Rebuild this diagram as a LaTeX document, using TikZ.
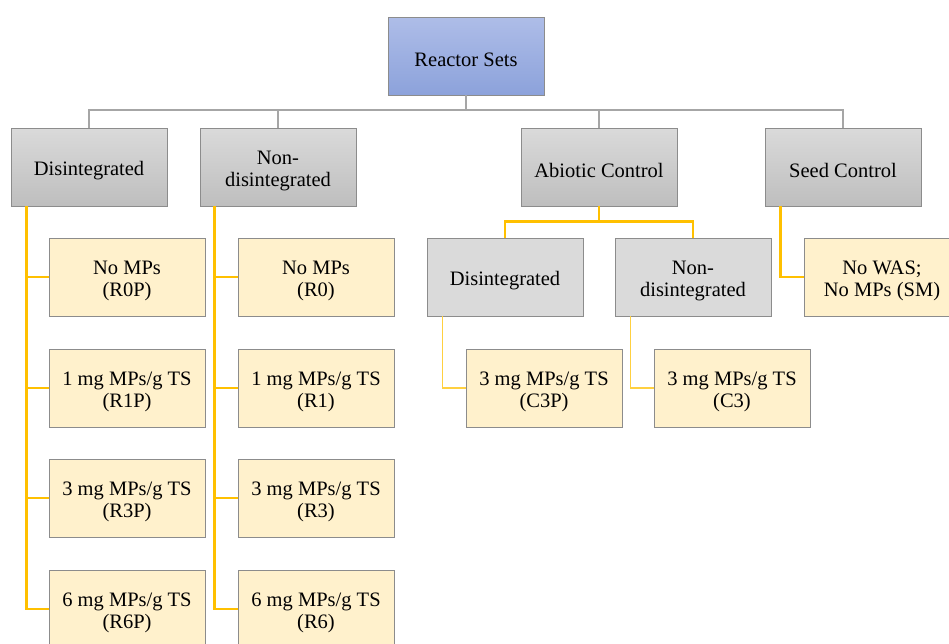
\documentclass[tikz,border=0pt]{standalone}
\usepackage{fontspec}
\setmainfont{Liberation Serif}
\newcommand\dnstrut{\rule{0pt}{21pt}}
\begin{document}
\begin{tikzpicture}[x=1pt,y=-1pt]
\definecolor{rsTop}{HTML}{AEBDE8}
\definecolor{rsBot}{HTML}{8CA2DB}
\definecolor{gTop}{HTML}{DADADA}
\definecolor{gBot}{HTML}{BEBEBE}
\definecolor{gold}{HTML}{FFC000}
\definecolor{cream}{HTML}{FFF1CC}
\tikzset{
  base/.style={minimum width=156pt,minimum height=78pt,inner sep=2pt,align=center,
    font=\fontsize{20.5pt}{22pt}\selectfont,text=black,draw=black!45,line width=0.9pt},
  topbox/.style={base,top color=rsTop,bottom color=rsBot},
  graybox/.style={base,top color=gTop,bottom color=gBot},
  lgraybox/.style={base,fill=gTop},
  ybox/.style={base,fill=cream},
  grayline/.style={draw=black!35,line width=2.6pt},
  goldline/.style={draw=gold,line width=2.6pt},
  thingold/.style={draw=gold!75,line width=1.4pt}}
\useasboundingbox (0,0) rectangle (949,643);
\clip (0,0) rectangle (949,643);
\coordinate (bar) at (466,110);
\node[topbox] (rs) at (466,56) {\dnstrut Reactor Sets};
\node[graybox] (dis) at (89,167) {\dnstrut Disintegrated};
\node[graybox] (nd) at (278,167) {\dnstrut Non-\\disintegrated};
\node[graybox] (ab) at (599,167) {\dnstrut Abiotic Control};
\node[graybox] (sc) at (843,167) {\dnstrut Seed Control};
\node[ybox] (r0p) at (127,277) {\dnstrut No MPs\\(R0P)};
\node[ybox] (r1p) at (127,388) {\dnstrut 1 mg MPs/g TS\\(R1P)};
\node[ybox] (r3p) at (127,498) {\dnstrut 3 mg MPs/g TS\\(R3P)};
\node[ybox] (r6p) at (127,609) {\dnstrut 6 mg MPs/g TS\\(R6P)};
\node[ybox] (r0) at (316,277) {\dnstrut No MPs\\(R0)};
\node[ybox] (r1) at (316,388) {\dnstrut 1 mg MPs/g TS\\(R1)};
\node[ybox] (r3) at (316,498) {\dnstrut 3 mg MPs/g TS\\(R3)};
\node[ybox] (r6) at (316,609) {\dnstrut 6 mg MPs/g TS\\(R6)};
\node[lgraybox] (ad) at (505,277) {\dnstrut Disintegrated};
\node[lgraybox] (an) at (693,277) {\dnstrut Non-\\disintegrated};
\node[ybox] (c3p) at (544,388) {\dnstrut 3 mg MPs/g TS\\(C3P)};
\node[ybox] (c3) at (732,388) {\dnstrut 3 mg MPs/g TS\\(C3)};
\node[ybox] (sm) at (882,277) {\dnstrut No WAS;\\No MPs (SM)};
% gray connectors
\draw[grayline] (rs.south) -- (bar);
\draw[grayline] (bar) -| (dis.north);
\draw[grayline] (bar) -| (nd.north);
\draw[grayline] (bar) -| (ab.north);
\draw[grayline] (bar) -| (sc.north);
% gold connectors
\foreach \c in {r0p,r1p,r3p,r6p}{\draw[goldline] (dis.south west) ++(16,0) |- (\c.west);}
\foreach \c in {r0,r1,r3,r6}{\draw[goldline] (nd.south west) ++(15,0) |- (\c.west);}
\draw[goldline] (ab.south) -- ++(0,15) -| (ad.north);
\draw[goldline] (ab.south) ++(0,15) -| (an.north);
\draw[goldline] (sc.south west) ++(16,0) |- (sm.west);
\draw[thingold] (ad.south west) ++(16,0) |- (c3p.west);
\draw[thingold] (an.south west) ++(16,0) |- (c3.west);
\end{tikzpicture}
\end{document}
